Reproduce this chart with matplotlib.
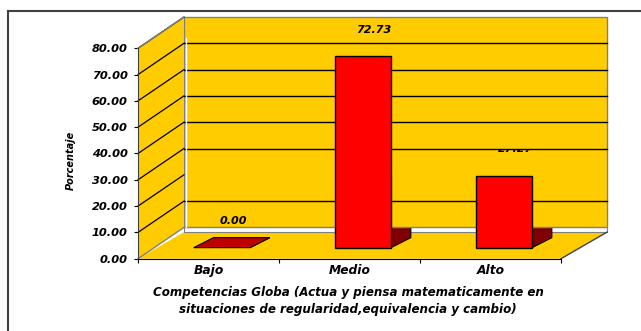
import matplotlib
matplotlib.use("Agg")
import matplotlib.pyplot as plt
from matplotlib.patches import Polygon, Rectangle
from matplotlib.lines import Line2D
from matplotlib.transforms import Bbox, TransformedBbox

# ---- data -------------------------------------------------------------
categories = ["Bajo", "Medio", "Alto"]
values = [0.00, 72.73, 27.27]
y_ticks = [0, 10, 20, 30, 40, 50, 60, 70, 80]
wall_gridlines = [10, 30, 40, 50, 60, 70]
y_label = "Porcentaje"
x_label = ("Competencias Globa (Actua y piensa matematicamente en\n"
           "situaciones de regularidad,equivalencia y cambio)")

# ---- style ------------------------------------------------------------
YELLOW = "#FFCC00"
RED = "#FF0000"
DARK_RED = "#800000"
TOP_RED = "#C00000"
EDGE = "#808080"
FONT = dict(family="DejaVu Sans", weight="bold", style="italic")

# oblique projection (data units): depth of the plot box and of each bar
DX, DY = 0.326, 11.9
BAR_DX, BAR_DY = 0.14, 3.8
FRONT_DX, BASE = 0.095, 4.2
HALF_W = 0.2
YMAX = 80

W, H = 641, 331
fig = plt.figure(figsize=(W / 100, H / 100), dpi=100)
ax = fig.add_axes([138 / W, (H - 258.7) / H, 423 / W, 210.4 / H])
ax.set_xlim(0, len(categories))
ax.set_ylim(0, YMAX)
ax.set_facecolor("none")

n = len(categories)


def poly(points, **kw):
    p = Polygon(points, closed=True, clip_on=False, **kw)
    ax.add_patch(p)
    return p


# floor with its lighter back rim
poly([(0, 0), (n, 0), (n + DX, DY - 1.8), (DX, DY - 1.8)],
     facecolor=YELLOW, edgecolor="none", zorder=1.0)
poly([(DX, DY - 1.8), (n + DX, DY - 1.8), (n + DX, DY), (DX, DY)],
     facecolor="white", edgecolor=EDGE, linewidth=0.8, zorder=1.05)
ax.plot([n, n + DX], [0, DY - 1.8], color="#404040", lw=1.0,
        clip_on=False, zorder=1.1)

# bar side and top faces (behind the back wall)
for i, v in enumerate(values):
    xc = i + 0.5 + FRONT_DX
    x0, x1 = xc - HALF_W, xc + HALF_W
    poly([(x1, BASE), (x1 + BAR_DX, BASE + BAR_DY),
          (x1 + BAR_DX, BASE + BAR_DY + v), (x1, BASE + v)],
         facecolor=DARK_RED, edgecolor="black", linewidth=0.8, zorder=1.2)
    poly([(x0, BASE + v), (x1, BASE + v),
          (x1 + BAR_DX, BASE + v + BAR_DY), (x0 + BAR_DX, BASE + v + BAR_DY)],
         facecolor=TOP_RED, edgecolor="black", linewidth=0.8, zorder=1.2)

# back wall and its gridlines
ax.add_patch(Rectangle((DX, DY), n, YMAX, facecolor=YELLOW, edgecolor=EDGE,
                       linewidth=1.0, clip_on=False, zorder=1.5))
for g in wall_gridlines:
    ax.plot([DX, n + DX], [g + DY, g + DY], color="black", lw=1.0,
            clip_on=False, zorder=1.6)
ax.plot([DX + 0.012] * 2, [DY, YMAX + DY - 8], color="white", lw=1.0,
        clip_on=False, zorder=1.62)

# edge of the tallest bar where it meets the wall
xm = 1 + 0.5 + FRONT_DX + HALF_W
ax.plot([xm, xm], [DY, BASE + values[2]], color="black", lw=1.5,
        clip_on=False, zorder=1.65)

# side wall with its diagonal gridlines
poly([(0, 0), (DX, DY), (DX, YMAX + DY), (0, YMAX)],
     facecolor=YELLOW, edgecolor="none", zorder=1.7)
for t in y_ticks[1:]:
    ax.plot([0, DX], [t, t + DY], color="black", lw=0.9,
            clip_on=False, zorder=1.75)
ax.plot([0, DX], [YMAX, YMAX + DY], color=EDGE, lw=1.0, clip_on=False,
        zorder=1.76)
ax.plot([0, DX], [0, DY], color=EDGE, lw=1.0, clip_on=False, zorder=1.76)

# bar front faces
for i, v in enumerate(values):
    xc = i + 0.5 + FRONT_DX
    if v > 0:
        ax.add_patch(Rectangle((xc - HALF_W, BASE), 2 * HALF_W, v,
                               facecolor=RED, edgecolor="black",
                               linewidth=1.0, clip_on=False, zorder=2.2))

# value labels; a label that straddles a wall gridline is cut at that line
for i, v in enumerate(values):
    ly = v + 14.3
    t = ax.text(i + 0.5 + 0.175, ly, f"{v:.2f}", ha="center",
                va="center", fontsize=8, zorder=3, clip_on=True, **FONT)
    for g in wall_gridlines:
        gy = g + DY
        if ly - 3 < gy < ly + 3 and BASE + v + BAR_DY < gy:
            t.set_clip_box(TransformedBbox(Bbox([[-1, -50], [n + 2, gy]]),
                                           ax.transData))
            break
    else:
        t.set_clip_on(False)

# axes: ticks, labels, spines
ax.set_yticks(y_ticks)
ax.set_yticklabels([f"{t:.2f}" for t in y_ticks], fontsize=8.2, **FONT)
ax.tick_params(axis="y", length=3, width=0.8, pad=4.5, color="black")
ax.set_xticks(range(n + 1))
ax.set_xticklabels([])
ax.set_xticks([i + 0.5 for i in range(n)], minor=True)
ax.set_xticklabels(categories, minor=True, fontsize=8.8, **FONT)
ax.tick_params(axis="x", which="major", length=3, width=0.8, color="black")
ax.tick_params(axis="x", which="minor", length=0, pad=4)
for s in ("top", "right"):
    ax.spines[s].set_visible(False)
ax.spines["left"].set_color("#404040")
ax.spines["bottom"].set_color("black")
ax.spines["left"].set_zorder(2.5)

fig.text(71 / W, 1 - 160 / H, y_label, rotation=90, ha="center", va="center",
         fontsize=7, **FONT)
fig.text(348 / W, 1 - 301 / H, x_label, ha="center", va="center",
         fontsize=8.6, linespacing=1.35, **FONT)

# chart frame
fig.add_artist(Line2D([8 / W, 1], [1 - 11 / H] * 2, color="#404040", lw=1.5,
                      transform=fig.transFigure))
fig.add_artist(Line2D([8 / W] * 2, [0, 1 - 11 / H], color="#404040", lw=1.5,
                      transform=fig.transFigure))

fig.savefig("out.png", dpi=100, facecolor="white")
